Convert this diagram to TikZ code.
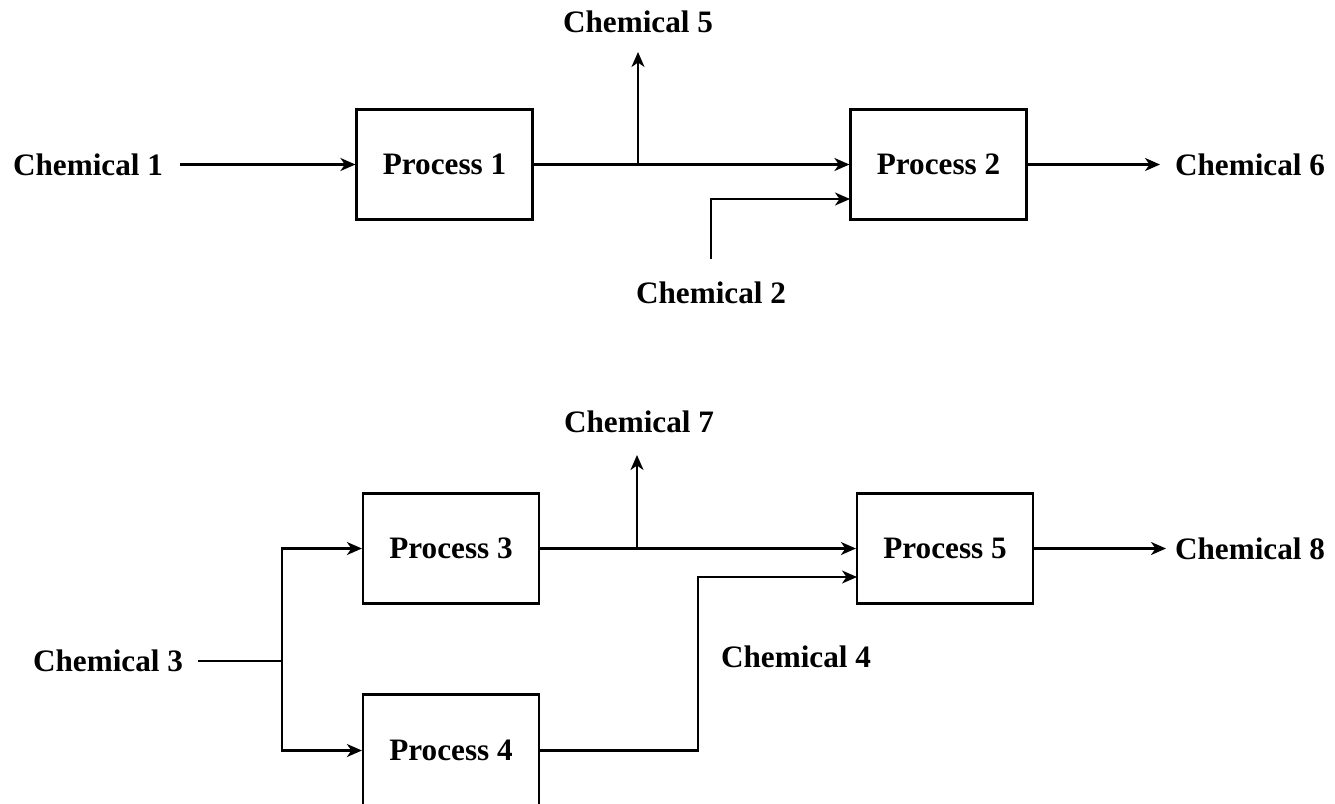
\documentclass[tikz,border=0pt]{standalone}
\usepackage{fontspec}
\setmainfont{Liberation Serif}
\usetikzlibrary{arrows.meta}
\begin{document}
\begin{tikzpicture}[x=1pt,y=-1pt,
  every node/.style={font=\fontsize{31.2}{37}\selectfont\bfseries},
  proc/.style={draw,line width=2.2pt,minimum width=176pt,minimum height=110pt,inner sep=0pt},
  lbl/.style={inner sep=0pt},
  flow/.style={line width=2.2pt},
  arr/.style={flow,-{Stealth[length=15pt,width=13pt,inset=4.5pt]}}]
\useasboundingbox (0,0) rectangle (1335,803);
% process boxes
\node[proc] (p1) at (444.5,164.5) {Process 1};
\node[proc] (p2) at (938.5,164.5) {Process 2};
\node[proc] (p3) at (451,548.5) {Process 3};
\node[proc,minimum height=112pt] (p4) at (451,750.5) {Process 4};
\node[proc] (p5) at (945,548.5) {Process 5};
% labels
\node[lbl] (c1) at (88,164.5) {Chemical 1};
\node[lbl] (c5) at (638,22) {Chemical 5};
\node[lbl] (c2) at (711,293) {Chemical 2};
\node[lbl] (c6) at (1250,164.5) {Chemical 6};
\node[lbl] (c7) at (639,422) {Chemical 7};
\node[lbl] (c3) at (108,661) {Chemical 3};
\node[lbl] (c4) at (796,657) {Chemical 4};
\node[lbl] (c8) at (1250,548.5) {Chemical 8};
% coordinates
\coordinate (c1s) at (180,164.5);
\coordinate (j1) at (638,164.5);
\coordinate (c5e) at (638,52);
\coordinate (c2s) at (711,259);
\coordinate (p2in) at (850,199);
\coordinate (c6e) at (1160,164.5);
\coordinate (c3s) at (198,661);
\coordinate (j3) at (282,661);
\coordinate (j7) at (637,548.5);
\coordinate (c7e) at (637,455);
\coordinate (c4a) at (698,577);
\coordinate (p5in) at (857,577);
\coordinate (c8e) at (1166,548.5);
% top flows
\draw[arr] (c1s) -- (p1.west);
\draw[arr] (p1.east) -- (p2.west);
\draw[arr] (j1) -- (c5e);
\draw[arr] (c2s) |- (p2in);
\draw[arr] (p2.east) -- (c6e);
% bottom flows
\draw[flow] (c3s) -- (j3);
\draw[arr] (j3) |- (p3.west);
\draw[arr] (j3) |- (p4.west);
\draw[arr] (p3.east) -- (p5.west);
\draw[arr] (j7) -- (c7e);
\draw[arr] (p4.east) -| (c4a) -- (p5in);
\draw[arr] (p5.east) -- (c8e);
\end{tikzpicture}
\end{document}
